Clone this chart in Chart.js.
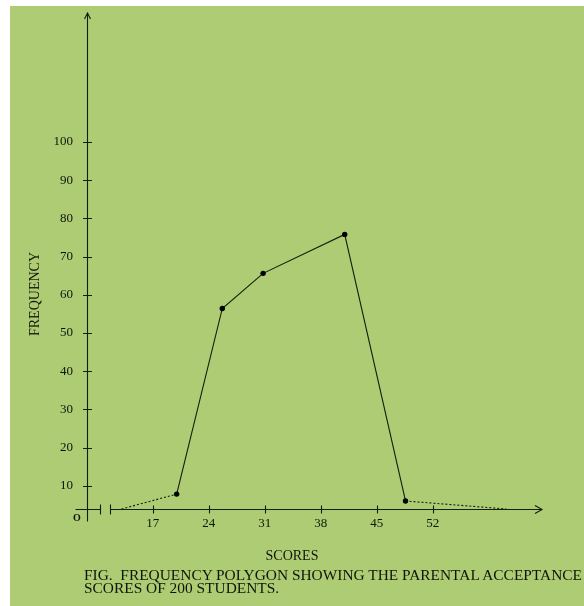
<!DOCTYPE html>
<html>
<head>
<meta charset="utf-8">
<script src="https://cdn.jsdelivr.net/npm/chart.js@4/dist/chart.umd.min.js"></script>
<style>
  html, body { margin: 0; padding: 0; background: #fff; }
  #panel { position: absolute; left: 10px; top: 6px; width: 574px; height: 600px; background: #adcc73; }
  #chart { position: absolute; left: 0; top: 0; }
  .txt { position: absolute; font-family: "Liberation Serif", "Times New Roman", serif; color: #10150b; white-space: nowrap; }
  #ytitle { left: 35px; top: 294px; font-size: 14px; line-height: 14px; transform: translate(-50%, -50%) rotate(-90deg); }
  #xtitle { left: 292px; top: 549px; font-size: 14px; line-height: 14px; transform: translateX(-50%); }
  #origin { left: 77px; top: 518px; font-size: 10px; line-height: 10px; font-weight: bold; transform: translate(-50%, -50%); }
  #caption { left: 84px; top: 569px; font-size: 14px; line-height: 13px; transform-origin: 0 0; transform: scaleX(1.1); }
</style>
</head>
<body>
<div id="panel"></div>
<canvas id="chart" width="584" height="606"></canvas>
<div class="txt" id="ytitle">FREQUENCY</div>
<div class="txt" id="xtitle">SCORES</div>
<div class="txt" id="origin">O</div>
<div class="txt" id="caption">FIG.&nbsp; FREQUENCY POLYGON SHOWING THE PARENTAL ACCEPTANCE<br>SCORES OF 200 STUDENTS.</div>
<script>
// Polygon vertices (class mid-points as drawn) and frequencies
const scores = [13.1, 20, 25.7, 30.8, 41, 48.6, 61.2];
const frequency = [0, 7.8, 56.4, 65.6, 75.8, 6, 0];

// Tick labels
const scoreTicks = [17, 24, 31, 38, 45, 52];
const freqTicks = [10, 20, 30, 40, 50, 60, 70, 80, 90, 100];

// The drawing uses a broken frequency scale: the x axis sits at about 3.9
const axisFreq = 3.9;

const ink = '#151d0f';

const handAxes = {
  id: 'handAxes',
  beforeDatasetsDraw(chart) {
    const { ctx, chartArea: a, scales: { x, y } } = chart;
    const ax = a.left + 0.5, ay = a.bottom + 0.5;
    ctx.save();
    ctx.strokeStyle = ink;
    ctx.lineWidth = 1.1;
    ctx.beginPath();
    // y axis, a bit past the x axis
    ctx.moveTo(ax, a.top - 1);
    ctx.lineTo(ax, ay + 12);
    // x axis: stub, break, rest
    ctx.moveTo(ax - 12, ay);
    ctx.lineTo(ax + 13, ay);
    ctx.moveTo(ax + 23, ay);
    ctx.lineTo(a.right, ay);
    ctx.moveTo(ax + 13, ay - 5);
    ctx.lineTo(ax + 13, ay + 5);
    ctx.moveTo(ax + 23, ay - 5);
    ctx.lineTo(ax + 23, ay + 5);
    // arrow heads
    ctx.moveTo(ax - 3, a.top + 5);
    ctx.lineTo(ax, a.top - 1);
    ctx.lineTo(ax + 3, a.top + 5);
    ctx.moveTo(a.right - 7, ay - 4);
    ctx.lineTo(a.right, ay);
    ctx.lineTo(a.right - 7, ay + 4);
    // tick marks crossing the axes
    y.ticks.forEach(t => {
      const py = Math.round(y.getPixelForValue(t.value)) + 0.5;
      ctx.moveTo(ax - 4.5, py);
      ctx.lineTo(ax + 4.5, py);
    });
    x.ticks.forEach(t => {
      const px = Math.round(x.getPixelForValue(t.value)) + 0.5;
      ctx.moveTo(px, ay - 4);
      ctx.lineTo(px, ay + 4);
    });
    ctx.stroke();
    ctx.restore();
  }
};

const last = scores.length - 1;
const points = scores.map((s, i) => ({ x: s, y: Math.max(frequency[i], axisFreq) }));

new Chart(document.getElementById('chart'), {
  type: 'scatter',
  data: {
    datasets: [{
      data: points,
      showLine: true,
      borderColor: ink,
      borderWidth: 1.1,
      backgroundColor: '#000',
      pointBackgroundColor: '#000',
      pointBorderWidth: 0,
      pointRadius: points.map((p, i) => (i === 0 || i === last) ? 0 : 2.7),
      segment: {
        borderDash: c => (c.p0DataIndex === 0 || c.p1DataIndex === last) ? [2, 2] : undefined
      }
    }]
  },
  options: {
    responsive: false,
    animation: false,
    layout: { padding: { top: 14, left: 0, right: 42, bottom: 67 } },
    plugins: { legend: { display: false }, tooltip: { enabled: false } },
    scales: {
      x: {
        type: 'linear',
        min: 8.79,
        max: 65.66,
        grid: { display: false, drawTicks: false },
        border: { display: false },
        ticks: { padding: 7, color: '#10150b', font: { family: 'Liberation Serif', size: 13 } },
        afterBuildTicks: s => { s.ticks = scoreTicks.map(v => ({ value: v })); },
        afterFit: s => { s.height = 30; s.paddingLeft = 0; s.paddingRight = 0; }
      },
      y: {
        type: 'linear',
        min: axisFreq,
        max: 133.5,
        grid: { display: false, drawTicks: false },
        border: { display: false },
        ticks: { padding: 14, color: '#10150b', font: { family: 'Liberation Serif', size: 13 } },
        afterBuildTicks: s => { s.ticks = freqTicks.map(v => ({ value: v })); },
        afterFit: s => { s.width = 87; s.paddingTop = 0; s.paddingBottom = 0; }
      }
    }
  },
  plugins: [handAxes]
});
</script>
</body>
</html>
